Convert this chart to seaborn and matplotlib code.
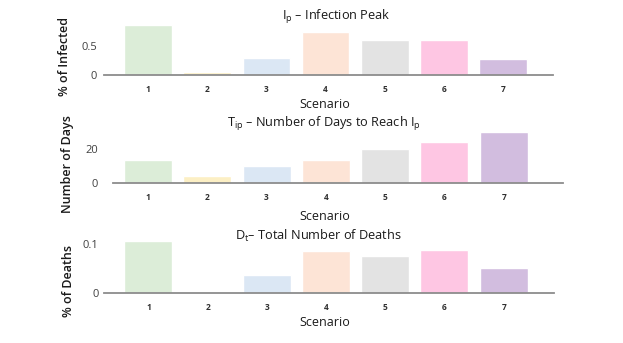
import matplotlib
matplotlib.use("Agg")
import matplotlib.pyplot as plt
import seaborn as sns
import pandas as pd

scenarios = ["1", "2", "3", "4", "5", "6", "7"]
infected_peak = [0.87, 0.05, 0.29, 0.74, 0.60, 0.60, 0.28]
days_to_peak = [13.5, 4.0, 10.0, 13.5, 20.0, 24.5, 30.0]
total_deaths = [0.106, 0.0, 0.037, 0.085, 0.075, 0.087, 0.050]
colors = ["#dcedd8", "#fcefc4", "#dbe7f4", "#fde4d6", "#e3e3e3", "#fec6e3", "#d2bddf"]

sns.set_theme(style="white")
plt.rcParams["font.family"] = ["Open Sans", "DejaVu Sans"]

W, H = 623, 343
fig = plt.figure(figsize=(W / 100, H / 100), dpi=100)
fig.patch.set_facecolor("white")


def px_axes(x0, x1, ytop, ybot):
    return fig.add_axes([x0 / W, 1 - ybot / H, (x1 - x0) / W, (ybot - ytop) / H])


panels = [
    dict(vals=infected_peak, box=(104, 553, 17, 75), ylim=(0, 1.0), xlim=(-0.75, 6.85),
         yticks=[0, 0.5], yticklabels=["0", "0.5"], ylabel="% of Infected",
         title=r"I$_\mathregular{p}$ – Infection Peak", title_xy=(336, 17),
         ylabel_xy=(65, 56), xlabel_y=104, ytick_pad=5),
    dict(vals=days_to_peak, box=(113, 563, 129, 183), ylim=(0, 32), xlim=(-0.59, 7.0),
         yticks=[0, 20], yticklabels=["0", "20"], ylabel="Number of Days",
         title=r"T$_\mathregular{ip}$ – Number of Days to Reach I$_\mathregular{p}$", title_xy=(324, 124),
         ylabel_xy=(68, 164), xlabel_y=217, ytick_pad=11),
    dict(vals=total_deaths, box=(104, 554, 239, 293), ylim=(0, 0.11), xlim=(-0.75, 6.85),
         yticks=[0, 0.1], yticklabels=["0", "0.1"], ylabel="% of Deaths",
         title=r"D$_\mathregular{t}$– Total Number of Deaths", title_xy=(318, 236),
         ylabel_xy=(68, 281), xlabel_y=322, ytick_pad=4),
]

for p in panels:
    x0, x1, yt, yb = p["box"]
    ax = px_axes(x0, x1, yt, yb)
    df = pd.DataFrame({"Scenario": scenarios, "value": p["vals"]})
    sns.barplot(data=df, x="Scenario", y="value", hue="Scenario", palette=colors,
                legend=False, width=0.81, ax=ax, saturation=1)
    ax.set_xlim(*p["xlim"])
    ax.set_ylim(*p["ylim"])
    ax.set_facecolor("none")
    for s in ["top", "right", "left"]:
        ax.spines[s].set_visible(False)
    ax.spines["bottom"].set_color("#8c8c8c")
    ax.spines["bottom"].set_linewidth(1.3)
    ax.set_yticks(p["yticks"])
    ax.set_yticklabels(p["yticklabels"])
    ax.tick_params(axis="y", length=0, pad=p["ytick_pad"], labelsize=8, labelcolor="#404040")
    ax.tick_params(axis="x", length=0, pad=7, labelsize=6)
    for lab in ax.get_xticklabels():
        lab.set_fontweight("bold")
        lab.set_color("#303030")
    ax.set_xlabel("")
    ax.set_ylabel("")
    fig.text(325 / W, 1 - p["xlabel_y"] / H, "Scenario", ha="center", va="center",
             fontsize=9, color="#1a1a1a")
    fig.text(p["ylabel_xy"][0] / W, 1 - p["ylabel_xy"][1] / H, p["ylabel"], ha="center", va="center",
             rotation=90, fontsize=9, color="#1a1a1a", fontweight="semibold")
    fig.text(p["title_xy"][0] / W, 1 - p["title_xy"][1] / H, p["title"], ha="center", va="center",
             fontsize=9.2, color="#1a1a1a")

fig.savefig("out.png", dpi=100, facecolor="white")
